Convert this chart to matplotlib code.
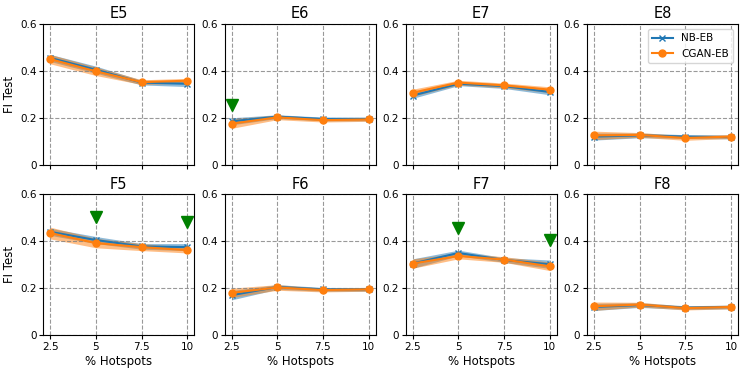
import numpy as np
import matplotlib
matplotlib.use("Agg")
import matplotlib.pyplot as plt

hotspots = [2.5, 5, 7.5, 10]
tick_labels = ["2.5", "5", "7.5", "10"]
panels = ["E5", "E6", "E7", "E8", "F5", "F6", "F7", "F8"]

nb_mean = {
    "E5": [0.455, 0.405, 0.350, 0.345],
    "E6": [0.185, 0.205, 0.195, 0.195],
    "E7": [0.295, 0.345, 0.335, 0.310],
    "E8": [0.120, 0.125, 0.120, 0.118],
    "F5": [0.440, 0.405, 0.378, 0.375],
    "F6": [0.170, 0.205, 0.195, 0.195],
    "F7": [0.305, 0.350, 0.320, 0.302],
    "F8": [0.120, 0.128, 0.117, 0.120],
}
nb_std = {
    "E5": [0.015, 0.015, 0.010, 0.012],
    "E6": [0.015, 0.008, 0.008, 0.008],
    "E7": [0.012, 0.008, 0.010, 0.012],
    "E8": [0.015, 0.010, 0.008, 0.008],
    "F5": [0.015, 0.015, 0.012, 0.015],
    "F6": [0.020, 0.010, 0.008, 0.008],
    "F7": [0.020, 0.012, 0.010, 0.018],
    "F8": [0.015, 0.010, 0.008, 0.008],
}
cgan_mean = {
    "E5": [0.450, 0.398, 0.352, 0.358],
    "E6": [0.175, 0.202, 0.190, 0.193],
    "E7": [0.307, 0.350, 0.338, 0.320],
    "E8": [0.125, 0.127, 0.114, 0.120],
    "F5": [0.435, 0.392, 0.375, 0.362],
    "F6": [0.180, 0.203, 0.192, 0.195],
    "F7": [0.305, 0.337, 0.322, 0.293],
    "F8": [0.123, 0.130, 0.115, 0.120],
}
cgan_std = {
    "E5": [0.020, 0.018, 0.010, 0.010],
    "E6": [0.020, 0.010, 0.008, 0.008],
    "E7": [0.015, 0.010, 0.010, 0.012],
    "E8": [0.018, 0.010, 0.010, 0.008],
    "F5": [0.025, 0.020, 0.015, 0.012],
    "F6": [0.020, 0.012, 0.008, 0.008],
    "F7": [0.020, 0.012, 0.012, 0.018],
    "F8": [0.018, 0.010, 0.008, 0.008],
}
# significance markers (x, y)
sig_marks = {
    "E6": [(2.5, 0.253)],
    "F5": [(5, 0.502), (10, 0.482)],
    "F7": [(5, 0.455), (10, 0.404)],
}

fig, axes = plt.subplots(2, 4, figsize=(7.47, 3.74), dpi=100)
fig.subplots_adjust(left=0.058, right=0.988, top=0.936, bottom=0.104,
                    wspace=0.2, hspace=0.21)

for ax, name in zip(axes.flat, panels):
    m1 = np.array(nb_mean[name]); s1 = np.array(nb_std[name])
    m2 = np.array(cgan_mean[name]); s2 = np.array(cgan_std[name])
    ax.fill_between(hotspots, m1 - s1, m1 + s1, color="tab:blue", alpha=0.5, lw=0)
    ax.plot(hotspots, m1, "-x", color="tab:blue", lw=1.5, ms=5, label="NB-EB")
    ax.fill_between(hotspots, m2 - s2, m2 + s2, color="tab:orange", alpha=0.5, lw=0)
    ax.plot(hotspots, m2, "-o", color="tab:orange", lw=1.5, ms=5, label="CGAN-EB")
    for (mx, my) in sig_marks.get(name, []):
        ax.plot(mx, my, "v", color="green", ms=9)
    ax.set_title(name, fontsize=10.5, pad=4)
    ax.set_ylim(0, 0.6)
    ax.set_yticks([0, 0.2, 0.4, 0.6])
    ax.set_yticklabels(["0", "0.2", "0.4", "0.6"])
    ax.set_xlim(2.12, 10.38)
    ax.set_xticks(hotspots)
    ax.tick_params(labelsize=7.5, length=3, pad=2)
    ax.grid(True, linestyle="--", color="gray", alpha=0.8, lw=0.8)

for ax in axes[0]:
    ax.set_xticklabels([])
for ax in axes[1]:
    ax.set_xticklabels(tick_labels)
    ax.set_xlabel("% Hotspots", fontsize=8.5, labelpad=2)
axes[0, 0].set_ylabel("FI Test", fontsize=8.5, labelpad=3)
axes[1, 0].set_ylabel("FI Test", fontsize=8.5, labelpad=3)
axes[0, 3].legend(loc="upper right", fontsize=7.5)

fig.savefig("out.png", dpi=100)
